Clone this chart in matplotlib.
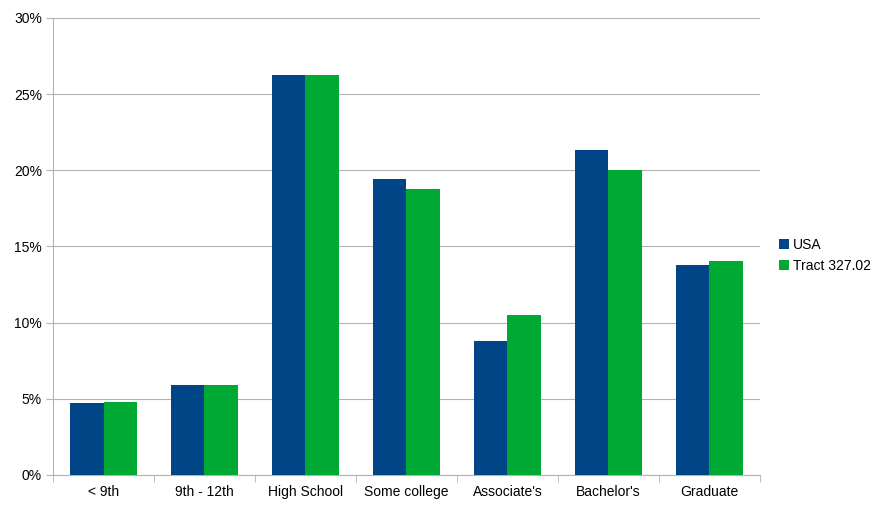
import numpy as np
import matplotlib.pyplot as plt
from matplotlib.ticker import FuncFormatter

# Education attainment data
categories = ["< 9th", "9th - 12th", "High School", "Some college",
              "Associate's", "Bachelor's", "Graduate"]
usa = [4.73, 5.91, 26.25, 19.43, 8.8, 21.33, 13.78]
tract = [4.78, 5.91, 26.25, 18.78, 10.5, 20.0, 14.05]

plt.rcParams['font.family'] = ['Liberation Sans', 'DejaVu Sans']
plt.rcParams['font.size'] = 10

fig = plt.figure(figsize=(8.78, 5.11), dpi=100)
ax = fig.add_axes([0.0604, 0.0705, 0.805, 0.8943])

x = np.arange(len(categories))
w = 0.335
ax.bar(x - w / 2, usa, w, color="#004586", label="USA", zorder=3)
ax.bar(x + w / 2, tract, w, color="#00a933", label="Tract 327.02", zorder=3)

ax.set_xlim(-0.5, len(categories) - 0.5)
ax.set_ylim(0, 30)
ax.set_yticks(np.arange(0, 31, 5))
ax.yaxis.set_major_formatter(FuncFormatter(lambda v, p: f"{v:.0f}%"))
ax.set_xticks(x)
ax.set_xticklabels(categories)
ax.set_xticks(np.arange(-0.5, len(categories), 1), minor=True)
ax.tick_params(axis="x", which="major", length=0, pad=7)
ax.tick_params(axis="x", which="minor", length=5, color="#b3b3b3")
ax.tick_params(axis="y", length=5, color="#b3b3b3", pad=3)

ax.grid(axis="y", color="#b3b3b3", linewidth=0.8, zorder=0)
for s in ["top", "right"]:
    ax.spines[s].set_visible(False)
for s in ["left", "bottom"]:
    ax.spines[s].set_color("#b3b3b3")

ax.legend(loc="center left", bbox_to_anchor=(1.01, 0.48), frameon=False,
          handlelength=0.7, handleheight=0.7, handletextpad=0.25,
          labelspacing=0.5)

fig.savefig("out.png", dpi=100)
